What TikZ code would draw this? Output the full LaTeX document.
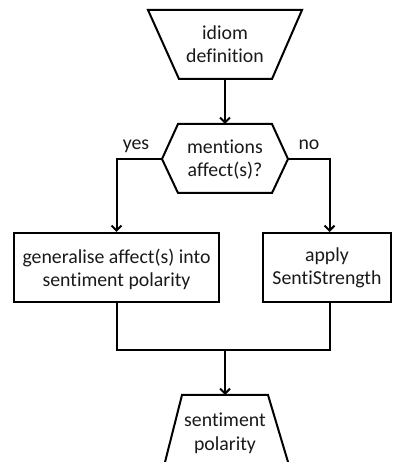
\documentclass[tikz,border=0pt]{standalone}
\usepackage{fontspec}
\setmainfont{Carlito}[Ligatures=NoCommon]
\usetikzlibrary{arrows.meta}
\begin{document}
\begin{tikzpicture}[x=1pt,y=1pt,
  outline/.style={line width=2pt, line join=miter},
  txt/.style={font=\fontsize{19.8}{23}\selectfont, align=center, inner sep=0pt, text=black!90, anchor=base},
  box/.style={outline, draw, inner sep=0pt},
  flow/.style={line width=2pt, -{Straight Barb[length=5pt,width=10pt]}},
  link/.style={line width=2pt}]
\useasboundingbox (0,0) rectangle (393,462);

% input: idiom definition (inverted trapezium)
\coordinate (inTL) at (148,452);
\coordinate (inTR) at (302,452);
\coordinate (inBR) at (272,383);
\coordinate (inBL) at (179,383);
\coordinate (inB)  at (225,383);
\draw[outline] (inTL) -- (inTR) -- (inBR) -- (inBL) -- cycle;
\node[txt] (idiom) at (225,399) {idiom\\definition};

% decision hexagon
\coordinate (qL) at (162,303);
\coordinate (qR) at (288,303);
\coordinate (qT) at (225,338);
\draw[outline] (qL) -- (178,338) -- (272,338) -- (qR) -- (272,269) -- (178,269) -- cycle;
\node[txt] (q) at (225,285) {mentions\\affect(s)?};

% process boxes
\node[box, minimum width=205pt, minimum height=69pt] (gen) at (116.5,194.5) {};
\node[txt] (genText) at (116.5,175) {generalise affect(s) into\\sentiment polarity};
\node[box, minimum width=128pt, minimum height=69pt] (apply) at (327,194.5) {};
\node[txt] (applyText) at (327,177) {apply\\SentiStrength};

% output: sentiment polarity (trapezium running off the bottom)
\coordinate (outT) at (225,67);
\draw[outline] (162.5,-10) -- (182,67) -- (268,67) -- (291,-10);
\node[txt] (out) at (225,12) {sentiment\\polarity};

% branch labels
\node[txt] (yes) at (136,312) {yes};
\node[txt] (no)  at (309,312) {no};

% connectors
\draw[flow] (inB) -- (qT);
\draw[flow] (qL) -| (gen.north);
\draw[flow] (qR) -| ([xshift=2.5pt]apply.north);
\coordinate (join) at (225,112);
\draw[link] (gen.south) |- (join) -| ([xshift=2.5pt]apply.south);
\draw[flow] (join) -- (outT);
\end{tikzpicture}
\end{document}
